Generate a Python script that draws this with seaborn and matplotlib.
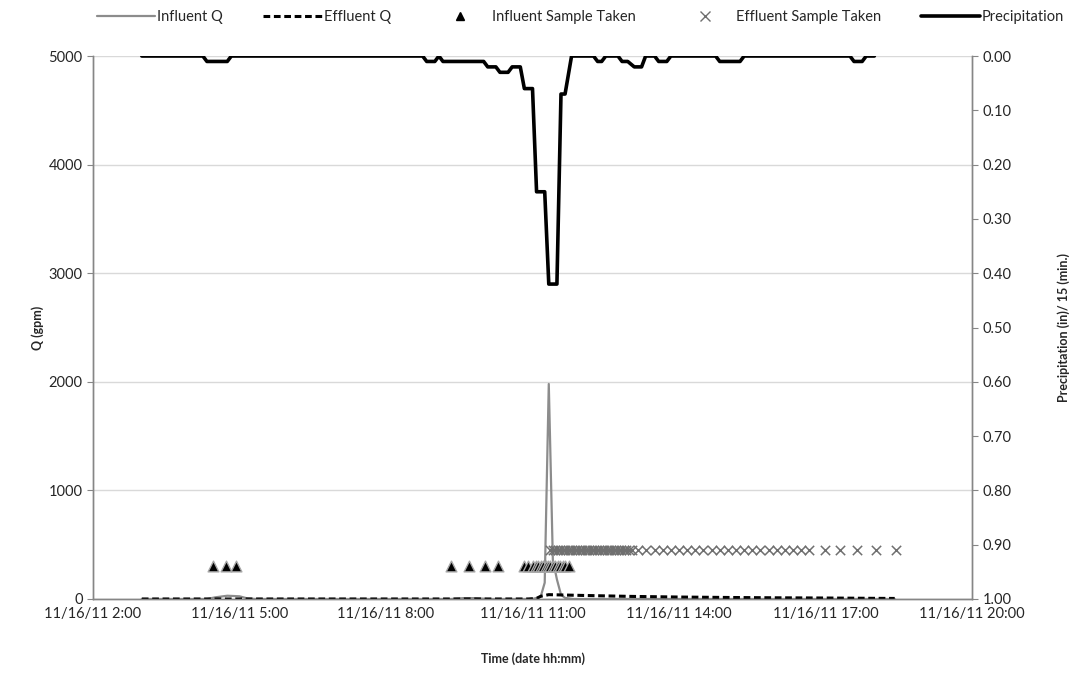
import pandas as pd
import numpy as np
import matplotlib.pyplot as plt
import matplotlib.dates as mdates
from matplotlib.ticker import FuncFormatter, MultipleLocator
from matplotlib.lines import Line2D
import seaborn as sns

DAY = "2011-11-16 "

# flow series, gpm
influent_t = ["03:00", "04:20", "04:30", "04:45", "05:00", "05:10", "05:20", "09:20", "09:35",
              "09:50", "10:05", "11:00", "11:10", "11:15", "11:20", "11:25", "11:30", "11:35",
              "11:40", "11:50", "18:25"]
influent_q = [0, 0, 15, 30, 25, 5, 0, 0, 8, 8, 0, 0, 20, 150, 1980, 360, 180, 40, 10, 0, 0]

effluent_t = ["03:00", "10:55", "11:05", "11:10", "11:20", "12:00", "13:00", "14:00", "15:00",
              "16:00", "17:00", "18:00", "18:25"]
effluent_q = [0, 0, 5, 25, 40, 33, 24, 18, 14, 11, 9, 6, 5]

# precipitation, in / 15 min
precip_t = ["03:00", "04:15", "04:20", "04:45", "04:50", "08:45", "08:50", "09:00", "09:05",
            "09:10", "10:00", "10:05", "10:15", "10:20", "10:30", "10:35", "10:40", "10:45",
            "10:50", "11:00", "11:05", "11:15", "11:20", "11:30", "11:35", "11:40", "11:48",
            "12:15", "12:20", "12:25", "12:30", "12:45", "12:50", "12:57", "13:05", "13:14",
            "13:19", "13:30", "13:35", "13:45", "13:50", "14:45", "14:50", "15:15", "15:20",
            "17:30", "17:35", "17:45", "17:50", "18:00"]
precip_in = [0, 0, 0.01, 0.01, 0, 0, 0.01, 0.01, 0, 0.01, 0.01, 0.02, 0.02, 0.03, 0.03, 0.02,
             0.02, 0.02, 0.06, 0.06, 0.25, 0.25, 0.42, 0.42, 0.07, 0.07, 0,
             0, 0.01, 0.01, 0, 0, 0.01, 0.01, 0.02, 0.02, 0, 0, 0.01, 0.01, 0, 0, 0.01, 0.01, 0,
             0, 0.01, 0.01, 0, 0]

# sample times
inf_sample_t = ["04:27", "04:44", "04:56", "09:20", "09:42", "10:02", "10:18", "10:49", "10:55",
                "11:01", "11:04", "11:07", "11:10", "11:13", "11:16", "11:19", "11:22", "11:25",
                "11:28", "11:31", "11:34", "11:37", "11:40", "11:45"]
inf_sample_level = 300

eff_sample_t = ["11:22", "11:25", "11:28", "11:31", "11:34", "11:37", "11:40", "11:43", "11:46",
                "11:49", "11:52", "11:55", "11:58", "12:01", "12:04", "12:07", "12:10", "12:13",
                "12:16", "12:19", "12:22", "12:25", "12:28", "12:31", "12:34", "12:37", "12:40",
                "12:43", "12:46", "12:49", "12:52", "12:55", "12:58", "13:02", "13:10", "13:20",
                "13:30", "13:40", "13:50", "14:00", "14:10", "14:20", "14:30", "14:40", "14:50",
                "15:00", "15:10", "15:20", "15:30", "15:40", "15:50", "16:00", "16:10", "16:20",
                "16:30", "16:40", "16:59", "17:18", "17:39", "18:02", "18:26"]
eff_sample_level = 450


def ts(lst):
    return pd.to_datetime([DAY + t for t in lst])


sns.set_style("white")
plt.rcParams['font.family'] = ['Lato', 'DejaVu Sans']

fig = plt.figure(figsize=(10.71, 6.75), dpi=100)
ax = fig.add_axes([0.0868, 0.1126, 0.8208, 0.8044])
ax2 = ax.twinx()

sns.lineplot(x=ts(influent_t), y=influent_q, ax=ax, color='#8c8c8c', linewidth=1.6, zorder=3)
sns.lineplot(x=ts(effluent_t), y=effluent_q, ax=ax, color='black', linewidth=2.2,
             linestyle=(0, (2.2, 1.2)), zorder=4)
sns.scatterplot(x=ts(inf_sample_t), y=[inf_sample_level] * len(inf_sample_t), ax=ax,
                marker='^', s=60, color='black', edgecolor='#a8a8a8', linewidth=1.0, zorder=5)
sns.scatterplot(x=ts(eff_sample_t), y=[eff_sample_level] * len(eff_sample_t), ax=ax,
                marker='x', s=45, color='#6f6f6f', linewidth=1.1, zorder=5)
sns.lineplot(x=ts(precip_t), y=precip_in, ax=ax2, color='black', linewidth=2.6)

ax.set_xlim(pd.Timestamp(DAY + "02:00"), pd.Timestamp(DAY + "20:00"))
ax.set_ylim(0, 5000)
ax.yaxis.set_major_locator(MultipleLocator(1000))
ax.grid(axis='y', color='#d9d9d9', linewidth=1)
ax.set_axisbelow(True)

ax2.set_ylim(1.0, 0.0)
ax2.yaxis.set_major_locator(MultipleLocator(0.1))
ax2.yaxis.set_major_formatter(FuncFormatter(lambda v, p: f"{v:.2f}"))

ax.xaxis.set_major_locator(mdates.HourLocator(byhour=range(2, 24, 3)))
ax.xaxis.set_minor_locator(mdates.HourLocator())
ax.xaxis.set_major_formatter(FuncFormatter(
    lambda v, p: (lambda d: f"{d.month}/{d.day}/{d.strftime('%y')} {d.hour}:{d.minute:02d}")(mdates.num2date(v))))

for a in (ax, ax2):
    for s in a.spines.values():
        s.set_color('#868686')
        s.set_linewidth(1)
    a.spines['top'].set_visible(False)
ax.tick_params(axis='x', which='major', direction='inout', length=8, color='#868686',
               labelsize=10.5, pad=2)
ax.tick_params(axis='x', which='minor', direction='out', length=4, color='#868686')
ax.tick_params(axis='y', direction='out', length=4, color='#868686', labelsize=10.5, left=True)
ax2.tick_params(axis='y', direction='out', length=4, color='#868686', labelsize=10.5, right=True)

ax.set_xlabel("Time (date hh:mm)", fontsize=9, fontweight='bold', labelpad=22)
ax.set_ylabel("Q (gpm)", fontsize=9, fontweight='bold', labelpad=3)
ax2.set_ylabel("Precipitation (in)/ 15 (min.)", fontsize=9, fontweight='bold', labelpad=33)

handles = [
    Line2D([], [], color='#8c8c8c', linewidth=1.6),
    Line2D([], [], color='black', linewidth=2.2, linestyle=(0, (2.2, 1.2))),
    Line2D([], [], color='black', marker='^', linestyle='none', markersize=6),
    Line2D([], [], color='#6f6f6f', marker='x', linestyle='none', markersize=7),
    Line2D([], [], color='black', linewidth=2.6),
]
labels = ["Influent Q", "Effluent Q", "Influent Sample Taken", "Effluent Sample Taken",
          "Precipitation"]
fig.legend(handles, labels, loc='upper center', bbox_to_anchor=(0.542, 1.005), ncol=5,
           frameon=False, fontsize=10.5, handlelength=4.0, handletextpad=0.15, columnspacing=2.75)

fig.savefig("out.png", dpi=100)
